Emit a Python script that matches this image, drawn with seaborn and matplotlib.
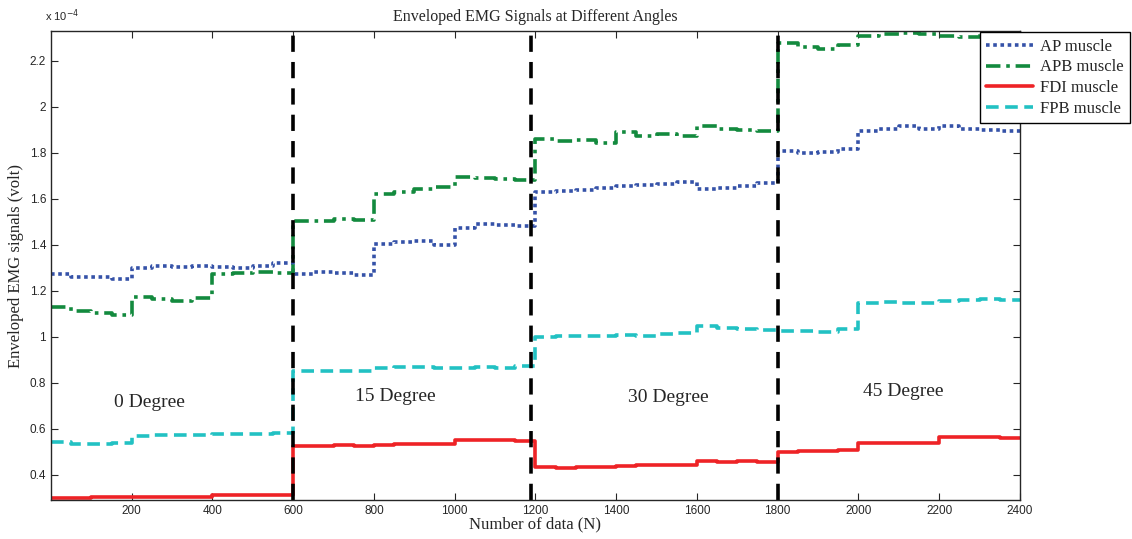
import numpy as np
import pandas as pd
import matplotlib.pyplot as plt
import seaborn as sns

# Sample index (one value every 50 samples, held until the next)
samples = list(range(0, 2400, 50))

# Enveloped EMG values, in units of 1e-4 volt
ap_muscle = [1.272, 1.262, 1.258, 1.252, 1.300, 1.310, 1.305, 1.306,
             1.305, 1.300, 1.310, 1.322, 1.275, 1.280, 1.278, 1.270,
             1.405, 1.412, 1.415, 1.400, 1.475, 1.490, 1.488, 1.480,
             1.628, 1.635, 1.640, 1.648, 1.655, 1.660, 1.665, 1.672,
             1.642, 1.648, 1.655, 1.670, 1.808, 1.800, 1.805, 1.815,
             1.893, 1.905, 1.915, 1.905, 1.918, 1.905, 1.900, 1.893]
apb_muscle = [1.128, 1.112, 1.105, 1.095, 1.172, 1.165, 1.155, 1.168,
              1.272, 1.278, 1.282, 1.278, 1.505, 1.505, 1.512, 1.508,
              1.622, 1.630, 1.645, 1.652, 1.695, 1.690, 1.685, 1.682,
              1.860, 1.850, 1.855, 1.845, 1.890, 1.875, 1.880, 1.872,
              1.915, 1.905, 1.900, 1.893, 2.278, 2.262, 2.250, 2.268,
              2.310, 2.318, 2.322, 2.315, 2.310, 2.305, 2.325, 2.330]
fdi_muscle = [0.300, 0.300, 0.301, 0.302, 0.302, 0.303, 0.303, 0.304,
              0.313, 0.312, 0.310, 0.311, 0.526, 0.525, 0.527, 0.526,
              0.530, 0.532, 0.533, 0.535, 0.550, 0.549, 0.550, 0.545,
              0.433, 0.430, 0.432, 0.432, 0.438, 0.442, 0.440, 0.444,
              0.458, 0.456, 0.458, 0.455, 0.498, 0.502, 0.503, 0.507,
              0.537, 0.538, 0.540, 0.538, 0.566, 0.562, 0.563, 0.560]
fpb_muscle = [0.541, 0.533, 0.535, 0.540, 0.568, 0.572, 0.574, 0.572,
              0.575, 0.576, 0.577, 0.580, 0.850, 0.853, 0.852, 0.850,
              0.862, 0.870, 0.868, 0.866, 0.866, 0.868, 0.865, 0.872,
              1.000, 1.003, 1.005, 1.002, 1.008, 1.005, 1.010, 1.015,
              1.045, 1.040, 1.035, 1.030, 1.025, 1.025, 1.020, 1.032,
              1.145, 1.150, 1.148, 1.148, 1.155, 1.160, 1.165, 1.162]

boundaries = [600, 1190, 1800]
angle_labels = ["0 Degree", "15 Degree", "30 Degree", "45 Degree"]
angle_x = [243, 854, 1528, 2110]
angle_y = [0.716, 0.74, 0.737, 0.76]

series = {
    "AP muscle": (ap_muscle, "#3552a8", (1.0, 1.0)),
    "APB muscle": (apb_muscle, "#138a3e", (4.0, 1.6, 1.0, 1.6)),
    "FDI muscle": (fdi_muscle, "#ee2326", None),
    "FPB muscle": (fpb_muscle, "#22c1c3", (3.5, 1.8)),
}

sns.set_style("ticks")
plt.rcParams["xtick.direction"] = "in"
plt.rcParams["ytick.direction"] = "in"

fig = plt.figure(figsize=(11.32, 5.39), dpi=100)
ax = fig.add_axes([0.045, 0.0724, 0.856, 0.870])

for name, (vals, color, dash) in series.items():
    df = pd.DataFrame({"x": samples + [2400], "y": vals + [vals[-1]]})
    kw = {}
    if dash is not None:
        kw["dashes"] = dash
    sns.lineplot(data=df, x="x", y="y", ax=ax, color=color, lw=2.6,
                 drawstyle="steps-post", label=name, estimator=None,
                 sort=False, dash_capstyle="butt", **kw)

for b in boundaries:
    ax.axvline(b, color="black", lw=2.6, linestyle=(0, (4.5, 2.8)))

for txt, tx, ty in zip(angle_labels, angle_x, angle_y):
    ax.text(tx, ty, txt, ha="center", va="center", fontsize=14,
            family="Liberation Serif")

ax.set_xlim(0, 2400)
ax.set_ylim(0.29, 2.33)
ax.set_xticks(range(200, 2401, 200))
ax.set_yticks([0.4, 0.6, 0.8, 1.0, 1.2, 1.4, 1.6, 1.8, 2.0, 2.2])
ax.set_yticklabels(["0.4", "0.6", "0.8", "1", "1.2", "1.4", "1.6", "1.8", "2", "2.2"])
ax.tick_params(top=True, right=True, labelsize=8.5, length=5, width=0.8)
for lab in ax.get_xticklabels() + ax.get_yticklabels():
    lab.set_family("Liberation Sans")
for s in ax.spines.values():
    s.set_linewidth(1.0)

ax.set_xlabel("Number of data (N)", fontsize=12, family="Liberation Serif", labelpad=0)
ax.set_ylabel("Enveloped EMG signals (volt)", fontsize=12, family="Liberation Serif", labelpad=4)
ax.set_title("Enveloped EMG Signals at Different Angles", fontsize=11.5,
             family="Liberation Serif", pad=7)
fig.text(0.040, 0.962, r"x 10$^{-4}$", fontsize=8, family="Liberation Sans")

leg = ax.legend(loc="upper right", bbox_to_anchor=(1130 / 1132, 1 - 32 / 539),
                bbox_transform=fig.transFigure, fancybox=False, framealpha=1,
                edgecolor="black", handlelength=2.8, handletextpad=0.4,
                borderaxespad=0, labelspacing=0.28, borderpad=0.4,
                prop={"family": "Liberation Serif", "size": 12})
leg.get_frame().set_linewidth(1.0)

plt.savefig("out.png", dpi=100)
